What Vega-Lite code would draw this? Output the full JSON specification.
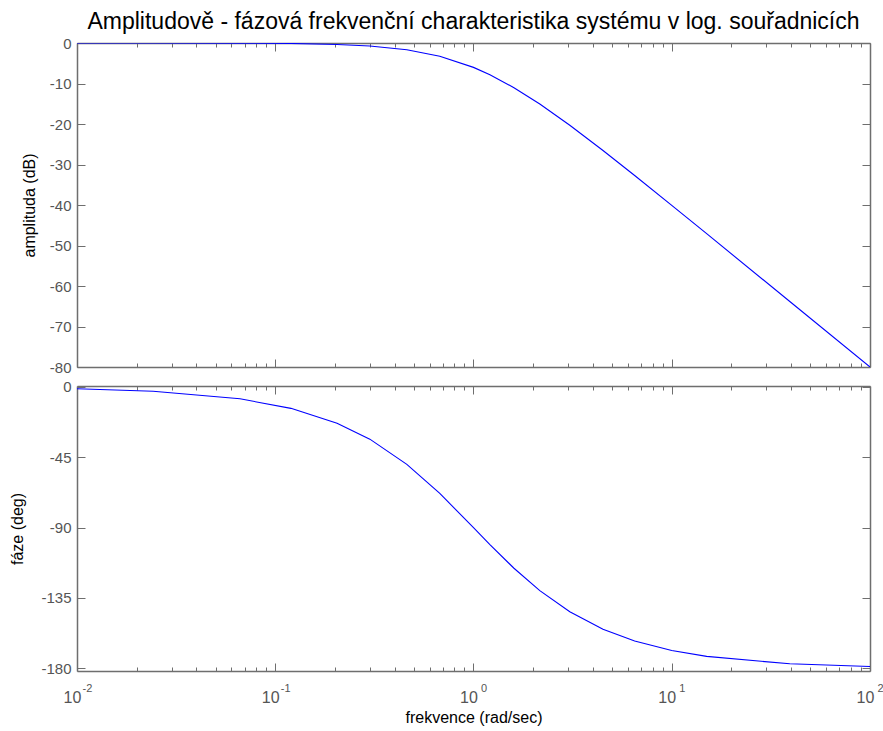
{
  "$schema": "https://vega.github.io/schema/vega-lite/v6.json",
  "background": "white",
  "padding": {"left": 9, "top": 11, "right": 5, "bottom": 5},
  "bounds": "flush",
  "spacing": 19,
  "data": {"values": [
    {"w": 0.01, "amp": -0.0004, "ph": -1.15},
    {"w": 0.0242, "amp": -0.0051, "ph": -2.77},
    {"w": 0.0664, "amp": -0.038, "ph": -7.60},
    {"w": 0.12, "amp": -0.124, "ph": -13.69},
    {"w": 0.205, "amp": -0.358, "ph": -23.17},
    {"w": 0.3, "amp": -0.749, "ph": -33.40},
    {"w": 0.461, "amp": -1.674, "ph": -49.50},
    {"w": 0.676, "amp": -3.269, "ph": -68.12},
    {"w": 1.0, "amp": -6.021, "ph": -90.0},
    {"w": 1.21, "amp": -7.833, "ph": -100.86},
    {"w": 1.6, "amp": -11.029, "ph": -115.98},
    {"w": 2.16, "amp": -15.065, "ph": -130.32},
    {"w": 3.06, "amp": -20.31, "ph": -143.80},
    {"w": 4.5, "amp": -26.547, "ph": -154.94},
    {"w": 6.5, "amp": -32.72, "ph": -162.51},
    {"w": 10, "amp": -40.086, "ph": -168.58},
    {"w": 15, "amp": -47.082, "ph": -172.37},
    {"w": 39.4, "amp": -63.826, "ph": -177.09},
    {"w": 100, "amp": -80.0, "ph": -178.85}
  ]},
  "config": {
    "view": {"stroke": null},
    "axis": {
      "labelFont": "Liberation Sans", "labelFontSize": 15, "labelColor": "#555555",
      "domainColor": "#6e6e6e", "domainWidth": 1.5, "tickColor": "#6e6e6e", "tickWidth": 1,
      "grid": false, "titleFont": "Liberation Sans", "titleFontSize": 16,
      "titleFontWeight": "normal", "titleColor": "#000000", "labelFlush": false
    }
  },
  "vconcat": [
    {
      "width": 793, "height": 324,
      "title": {"text": "Amplitudově - fázová frekvenční charakteristika systému v log. souřadnicích", "font": "Liberation Sans", "fontSize": 23, "fontWeight": "normal", "color": "#000000", "anchor": "middle", "offset": 2},
      "resolve": {"axis": {"x": "independent", "y": "independent"}},
      "layer": [
        {
          "mark": {"type": "line", "color": "#0000ff", "strokeWidth": 1.1, "clip": true},
          "encoding": {
            "x": {"field": "w", "type": "quantitative", "scale": {"type": "log", "domain": [0.01, 100], "nice": false},
              "axis": {"orient": "bottom", "values": [0.01, 0.1, 1, 10, 100], "tickSize": -8, "labels": false, "title": null}},
            "y": {"field": "amp", "type": "quantitative", "scale": {"domain": [-80, 0], "nice": false, "zero": false},
              "axis": {"orient": "left", "values": [0, -10, -20, -30, -40, -50, -60, -70, -80], "tickSize": -8, "labelPadding": 14, "labelExpr": "'' + datum.value", "title": "amplituda (dB)", "titlePadding": 12}}
          }
        },
        {
          "mark": {"type": "line", "opacity": 0},
          "encoding": {
            "x": {"field": "w", "type": "quantitative", "scale": {"type": "log", "domain": [0.01, 100], "nice": false},
              "axis": {"orient": "bottom", "values": [0.02,0.03,0.04,0.05,0.06,0.07,0.08,0.09,0.2,0.3,0.4,0.5,0.6,0.7,0.8,0.9,2,3,4,5,6,7,8,9,20,30,40,50,60,70,80,90], "tickSize": -4, "labels": false, "domain": false, "title": null}},
            "y": {"field": "amp", "type": "quantitative", "scale": {"domain": [-80, 0], "nice": false, "zero": false},
              "axis": {"orient": "right", "values": [0, -10, -20, -30, -40, -50, -60, -70, -80], "tickSize": -8, "labels": false, "title": null}}
          }
        },
        {
          "mark": {"type": "line", "opacity": 0},
          "encoding": {
            "x": {"field": "w", "type": "quantitative", "scale": {"type": "log", "domain": [0.01, 100], "nice": false},
              "axis": {"orient": "top", "values": [0.01, 0.1, 1, 10, 100], "tickSize": -8, "labels": false, "title": null}},
            "y": {"field": "amp", "type": "quantitative", "scale": {"domain": [-80, 0], "nice": false, "zero": false}, "axis": null}
          }
        },
        {
          "mark": {"type": "line", "opacity": 0},
          "encoding": {
            "x": {"field": "w", "type": "quantitative", "scale": {"type": "log", "domain": [0.01, 100], "nice": false},
              "axis": {"orient": "top", "values": [0.02,0.03,0.04,0.05,0.06,0.07,0.08,0.09,0.2,0.3,0.4,0.5,0.6,0.7,0.8,0.9,2,3,4,5,6,7,8,9,20,30,40,50,60,70,80,90], "tickSize": -4, "labels": false, "domain": false, "title": null}},
            "y": {"field": "amp", "type": "quantitative", "scale": {"domain": [-80, 0], "nice": false, "zero": false}, "axis": null}
          }
        }
      ]
    },
    {
      "width": 793, "height": 285,
      "resolve": {"axis": {"x": "independent", "y": "independent"}},
      "layer": [
        {
          "mark": {"type": "line", "color": "#0000ff", "strokeWidth": 1.1, "clip": true},
          "encoding": {
            "x": {"field": "w", "type": "quantitative", "scale": {"type": "log", "domain": [0.01, 100], "nice": false},
              "axis": {"orient": "bottom", "values": [0.01, 0.1, 1, 10, 100], "tickSize": -8, "labelPadding": 26, "labelFontSize": 16, "labelOffset": -5, "labelExpr": "'10'", "title": "frekvence  (rad/sec)", "titlePadding": 4}},
            "y": {"field": "ph", "type": "quantitative", "scale": {"domain": [-181.7, 0.6], "nice": false, "zero": false},
              "axis": {"orient": "left", "values": [0, -45, -90, -135, -180], "tickSize": -8, "labelPadding": 14, "labelExpr": "'' + datum.value", "title": "fáze (deg)", "titlePadding": 15}}
          }
        },
        {
          "mark": {"type": "line", "opacity": 0},
          "encoding": {
            "x": {"field": "w", "type": "quantitative", "scale": {"type": "log", "domain": [0.01, 100], "nice": false},
              "axis": {"orient": "bottom", "values": [0.02,0.03,0.04,0.05,0.06,0.07,0.08,0.09,0.2,0.3,0.4,0.5,0.6,0.7,0.8,0.9,2,3,4,5,6,7,8,9,20,30,40,50,60,70,80,90], "tickSize": -4, "labels": false, "domain": false, "title": null}},
            "y": {"field": "ph", "type": "quantitative", "scale": {"domain": [-181.7, 0.6], "nice": false, "zero": false},
              "axis": {"orient": "right", "values": [0, -45, -90, -135, -180], "tickSize": -8, "labels": false, "title": null}}
          }
        },
        {
          "mark": {"type": "line", "opacity": 0},
          "encoding": {
            "x": {"field": "w", "type": "quantitative", "scale": {"type": "log", "domain": [0.01, 100], "nice": false},
              "axis": {"orient": "top", "values": [0.01, 0.1, 1, 10, 100], "tickSize": -8, "labels": false, "title": null}},
            "y": {"field": "ph", "type": "quantitative", "scale": {"domain": [-181.7, 0.6], "nice": false, "zero": false}, "axis": null}
          }
        },
        {
          "mark": {"type": "line", "opacity": 0},
          "encoding": {
            "x": {"field": "w", "type": "quantitative", "scale": {"type": "log", "domain": [0.01, 100], "nice": false},
              "axis": {"orient": "top", "values": [0.02,0.03,0.04,0.05,0.06,0.07,0.08,0.09,0.2,0.3,0.4,0.5,0.6,0.7,0.8,0.9,2,3,4,5,6,7,8,9,20,30,40,50,60,70,80,90], "tickSize": -4, "labels": false, "domain": false, "title": null}},
            "y": {"field": "ph", "type": "quantitative", "scale": {"domain": [-181.7, 0.6], "nice": false, "zero": false}, "axis": null}
          }
        },
        {
          "mark": {"type": "line", "opacity": 0},
          "encoding": {
            "x": {"field": "w", "type": "quantitative", "scale": {"type": "log", "domain": [0.01, 100], "nice": false},
              "axis": {"orient": "bottom", "values": [0.01, 0.1, 1, 10, 100], "ticks": false, "domain": false, "labelPadding": 11, "labelFontSize": 11, "labelOffset": 10, "labelOverlap": false, "labelExpr": "datum.value < 0.05 ? '-2' : datum.value < 0.5 ? '-1' : datum.value < 5 ? '0' : datum.value < 50 ? '1' : '2'", "title": null}},
            "y": {"field": "ph", "type": "quantitative", "scale": {"domain": [-181.7, 0.6], "nice": false, "zero": false}, "axis": null}
          }
        }
      ]
    }
  ]
}
